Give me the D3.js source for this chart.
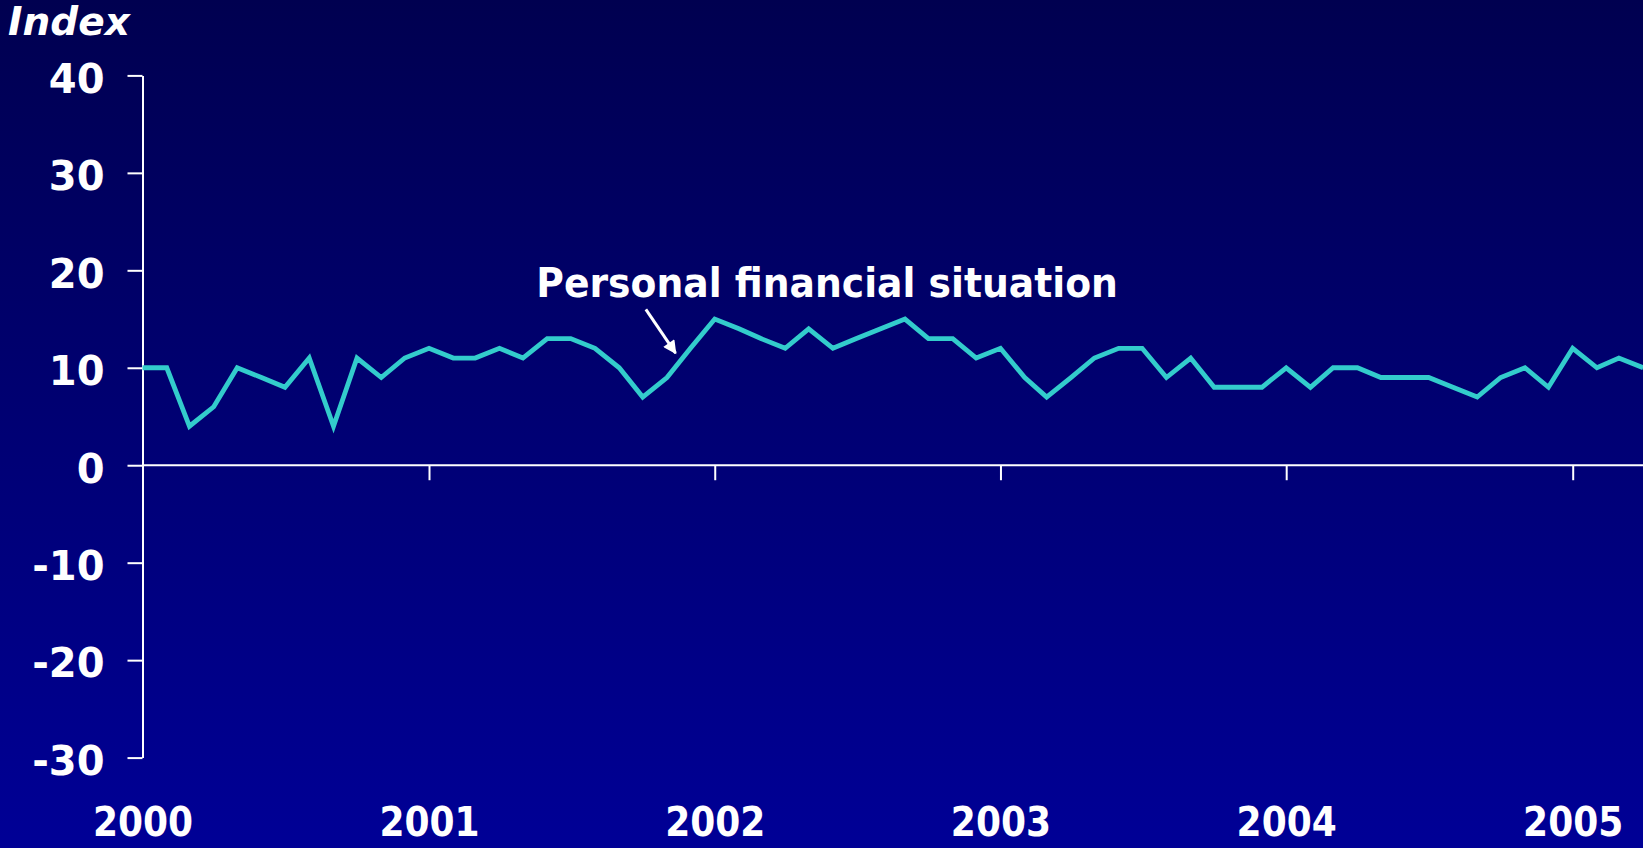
<!DOCTYPE html>
<html>
<head>
<meta charset="utf-8">
<script src="https://cdn.jsdelivr.net/npm/d3@7"></script>
<style>
  html, body { margin: 0; padding: 0; background: #000070; }
  svg { display: block; }
</style>
</head>
<body>
<svg id="chart" width="1643" height="848"></svg>
<script>
// Monthly index values, one array per year (Jan..Dec)
const values2000 = [10, 10, 4, 6, 10, 9, 8, 11, 4, 11, 9, 11];
const values2001 = [12, 11, 11, 12, 11, 13, 13, 12, 10, 7, 9, 12];
const values2002 = [15, 14, 13, 12, 14, 12, 13, 14, 15, 13, 13, 11];
const values2003 = [12, 9, 7, 9, 11, 12, 12, 9, 11, 8, 8, 8];
const values2004 = [10, 8, 10, 10, 9, 9, 9, 8, 7, 9, 10, 8];
const values2005 = [12, 10, 11, 10];

const years = [2000, 2001, 2002, 2003, 2004, 2005];
const yTicks = [40, 30, 20, 10, 0, -10, -20, -30];
const yTickLabels = ["40", "30", "20", "10", "0", "-10", "-20", "-30"];
const seriesLabel = "Personal financial situation";
const axisTitle = "Index";

const yearValues = [values2000, values2001, values2002, values2003, values2004, values2005];
const series = [];
yearValues.forEach((arr, yi) => {
  arr.forEach((v, m) => series.push({ date: new Date(years[yi], m, 1), value: v }));
});

const W = 1643, H = 848;
const svg = d3.select("#chart");

// Background gradient: dark navy at the top, brighter blue at the bottom
const defs = svg.append("defs");
const grad = defs.append("linearGradient")
  .attr("id", "bg").attr("x1", 0).attr("y1", 0).attr("x2", 0).attr("y2", 1);
grad.append("stop").attr("offset", "0%").attr("stop-color", "#000050");
grad.append("stop").attr("offset", "100%").attr("stop-color", "#000096");
svg.append("rect").attr("width", W).attr("height", H).attr("fill", "url(#bg)");

defs.append("marker")
  .attr("id", "arrowhead")
  .attr("viewBox", "0 0 10 10")
  .attr("refX", 9).attr("refY", 5)
  .attr("markerWidth", 6.5).attr("markerHeight", 4.5)
  .attr("markerUnits", "strokeWidth")
  .attr("orient", "auto")
  .append("path").attr("d", "M0,0 L10,5 L0,10 Z").attr("fill", "#ffffff");

// Scales
const x = d3.scaleTime()
  .domain([new Date(2000, 0, 1), new Date(2005, 0, 1)])
  .range([142.5, 1572.7]);
const y = d3.scaleLinear().domain([-30, 40]).range([757.6, 75.4]);

const font = "'DejaVu Sans', Verdana, sans-serif";

// Y axis
const yAxis = svg.append("g")
  .attr("transform", `translate(${x.range()[0]},0)`)
  .call(d3.axisLeft(y).tickValues(yTicks).tickSize(15).tickSizeOuter(0).tickPadding(23)
    .tickFormat((d, i) => yTickLabels[i]));
yAxis.select(".domain").attr("stroke", "#ffffff").attr("stroke-width", 2);
yAxis.selectAll(".tick line").attr("stroke", "#ffffff").attr("stroke-width", 2);
yAxis.selectAll(".tick text")
  .attr("fill", "#ffffff")
  .attr("font-family", font)
  .attr("font-weight", "bold")
  .attr("font-size", 40)
  .attr("dy", "0.42em");

// Zero line with year ticks
const zeroAxis = svg.append("g")
  .attr("transform", `translate(0,${y(0)})`)
  .call(d3.axisBottom(x)
    .tickValues(years.slice(1).map(yr => new Date(yr, 0, 1)))
    .tickSize(15).tickSizeOuter(0).tickFormat(""));
zeroAxis.select(".domain")
  .attr("d", `M${x.range()[0]},0H${W}`)
  .attr("stroke", "#ffffff").attr("stroke-width", 2);
zeroAxis.selectAll(".tick line").attr("stroke", "#ffffff").attr("stroke-width", 2);

// Year labels along the bottom
const yearAxis = svg.append("g")
  .attr("transform", "translate(0,836)")
  .call(d3.axisBottom(x)
    .tickValues(years.map(yr => new Date(yr, 0, 1)))
    .tickSize(0).tickFormat(d3.timeFormat("%Y")));
yearAxis.select(".domain").remove();
yearAxis.selectAll(".tick text")
  .attr("y", 0).attr("dy", 0)
  .attr("fill", "#ffffff")
  .attr("font-family", font)
  .attr("font-weight", "bold")
  .attr("font-size", 40)
  .attr("transform", "scale(0.9,1)");

// Series line
const line = d3.line()
  .x(d => x(d.date))
  .y(d => y(d.value));
svg.append("path")
  .datum(series)
  .attr("fill", "none")
  .attr("stroke", "#33cccc")
  .attr("stroke-width", 4.8)
  .attr("stroke-linejoin", "miter")
  .attr("d", line);

// Axis title
svg.append("text")
  .attr("x", 8).attr("y", 35)
  .attr("fill", "#ffffff")
  .attr("font-family", font)
  .attr("font-weight", "bold")
  .attr("font-style", "italic")
  .attr("font-size", 39)
  .text(axisTitle);

// Series label with pointer arrow
const labelX = x(new Date(2001, 4, 18));
const labelY = y(17.3);
svg.append("text")
  .attr("transform", `translate(${labelX},${labelY}) scale(0.92,1)`)
  .attr("fill", "#ffffff")
  .attr("font-family", font)
  .attr("font-weight", "bold")
  .attr("font-size", 41)
  .text(seriesLabel);

svg.append("line")
  .attr("x1", x(new Date(2001, 9, 5))).attr("y1", y(16.0))
  .attr("x2", x(new Date(2001, 10, 12))).attr("y2", y(11.5))
  .attr("stroke", "#ffffff")
  .attr("stroke-width", 3)
  .attr("marker-end", "url(#arrowhead)");
</script>
</body>
</html>
